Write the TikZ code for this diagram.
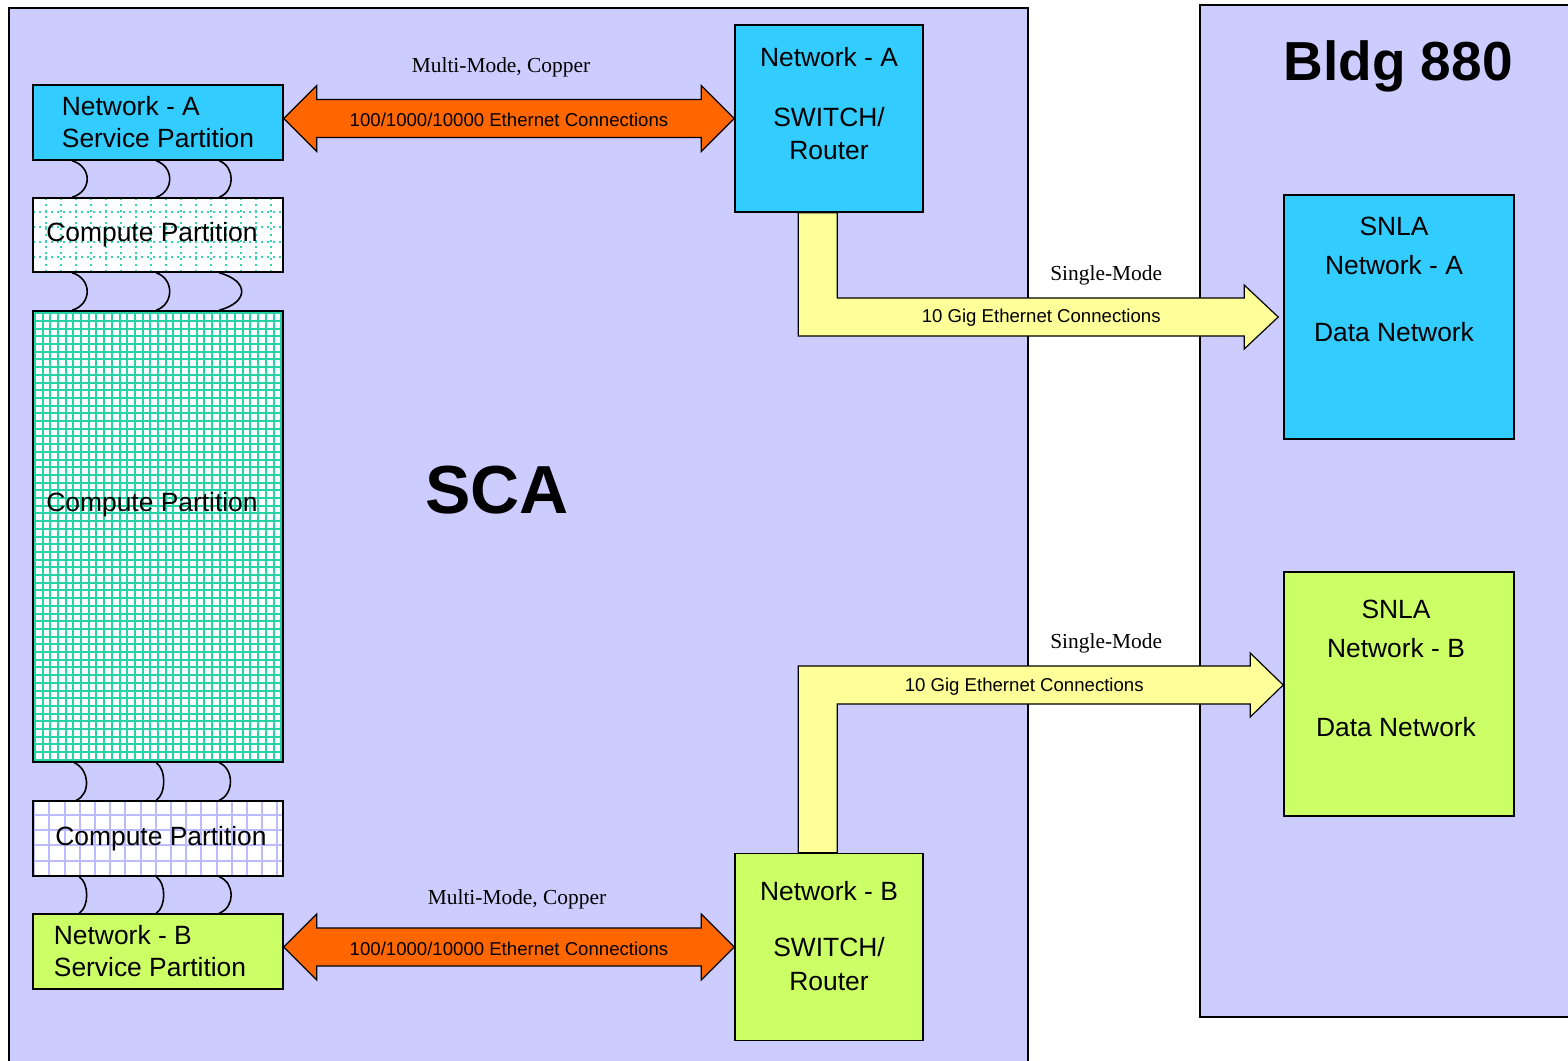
\documentclass[tikz,border=0pt]{standalone}
\usepackage{fontspec}
\setmainfont{Liberation Serif}
\setsansfont{Liberation Sans}
\usepackage{tikz}
\usetikzlibrary{shapes,arrows,calc}
\definecolor{lavender}{HTML}{CCCCFF}
\definecolor{skyblue}{HTML}{33CCFF}
\definecolor{limegreen}{HTML}{CCFF66}
\definecolor{fireorange}{HTML}{FF6600}
\definecolor{paleyellow}{HTML}{FFFF99}
\definecolor{gridgreen}{HTML}{00CC99}
\definecolor{gridlav}{HTML}{BBBBFF}
\tikzstyle{area} = [rectangle, draw, fill=lavender, line width=0.8pt, inner sep=0pt]
\tikzstyle{part} = [rectangle, draw, line width=0.8pt, minimum width=125pt, minimum height=37.5pt,
font=\sffamily\fontsize{13.2}{16}\selectfont, inner sep=0pt]
\tikzstyle{service} = [part, align=left]
\tikzstyle{dotgrid} = [part, fill=white, path picture={\draw[gridgreen!80, dotted, line width=1pt]
(path picture bounding box.south west) grid[step=7.5pt] (path picture bounding box.north east);}]
\tikzstyle{densegrid} = [part, fill=white, path picture={\draw[gridgreen!85, line width=1pt]
(path picture bounding box.south west) grid[step=3.85pt] (path picture bounding box.north east);}]
\tikzstyle{lavgrid} = [part, fill=white, path picture={\draw[gridlav, line width=1pt]
(path picture bounding box.south west) grid[step=7.6pt] (path picture bounding box.north east);}]
\tikzstyle{switchbox} = [rectangle, draw, line width=0.8pt, minimum width=94pt, minimum height=93.5pt]
\tikzstyle{datanet} = [rectangle, draw, line width=0.8pt, minimum width=115pt, minimum height=122pt]
\tikzstyle{boxtext} = [anchor=north, align=center, inner sep=0pt, font=\sffamily\fontsize{13.2}{16.5}\selectfont]
\tikzstyle{fatarrow} = [draw, fill=fireorange, line width=0.6pt]
\tikzstyle{bentarrow} = [draw, fill=paleyellow, line width=0.6pt]
\tikzstyle{tag} = [inner sep=0pt, font=\sffamily\fontsize{9.3}{11}\selectfont]
\tikzstyle{cable} = [inner sep=0pt, font=\rmfamily\fontsize{10.7}{12}\selectfont]
\tikzstyle{link} = [draw, line width=0.8pt]

\begin{document}
\begin{tikzpicture}[x=0.5pt, y=-0.5pt, node distance=56.25pt]
\useasboundingbox (0,0) rectangle (1568,1060);
% sites
\node [area, minimum width=509.5pt, minimum height=531pt] (sca) at (518.5,539) {};
\node [area, minimum width=195pt, minimum height=506pt] (bldg) at (1395,511) {};
\node [font=\sffamily\bfseries\fontsize{34}{40}\selectfont] (scatitle) at (497,490) {SCA};
\node [font=\sffamily\bfseries\fontsize{27.5}{33}\selectfont] (bldgtitle) at (1398,66) {Bldg 880};
% partitions
\node [service, fill=skyblue] (netAsvc) at (158,122.5) {Network - A\\Service Partition};
\node [dotgrid, below of=netAsvc, minimum height=37pt] (cp1) {Compute Partition\hspace*{6pt}};
\node [densegrid, below of=cp1, node distance=150.75pt, minimum height=225.5pt] (cp2) {};
\node [boxtext, anchor=center] (cp2txt) at ($(cp2)+(-6,-32)$) {Compute Partition};
\node [lavgrid, below of=cp2, node distance=151pt] (cp3) {\hspace*{3pt}Compute Partition};
\node [service, fill=limegreen, below of=cp3, node distance=56.5pt] (netBsvc) {Network - B\\Service Partition\hspace*{8pt}};
% switches and data networks
\node [switchbox, fill=skyblue] (swA) at (829,118.5) {};
\node [switchbox, fill=limegreen, below of=swA, node distance=414.25pt] (swB) {};
\node [boxtext] (swAtxt) at ($(swA.north)+(0,23)$) {Network - A\\[13.5pt]SWITCH/\\Router};
\node [boxtext] (swBtxt) at ($(swB.north)+(0,28)$) {Network - B\\[11.5pt]SWITCH/\\[0.5pt]Router};
\node [datanet, fill=skyblue] (snlaA) at (1399,317) {};
\node [datanet, fill=limegreen, below of=snlaA, node distance=188.5pt] (snlaB) {};
\node [boxtext] (snlaAtxt) at ($(snlaA.north)+(-5,22)$) {SNLA\\[3pt]Network - A\\[17pt]Data Network};
\node [boxtext] (snlaBtxt) at ($(snlaB.north)+(-3,28)$) {SNLA\\[3pt]Network - B\\[23pt]Data Network};
% links between partitions
\path [link] ($(netAsvc.south west)+(40,0)$) .. controls +(20,6) and +(20,-6) .. ($(cp1.north west)+(40,0)$)
  ($(netAsvc.south west)+(124,0)$) .. controls +(18,6) and +(18,-6) .. ($(cp1.north west)+(124,0)$)
  ($(netAsvc.south west)+(187,0)$) .. controls +(16,6) and +(16,-6) .. ($(cp1.north west)+(187,0)$);
\path [link] ($(cp1.south west)+(40,0)$) .. controls +(20,6) and +(20,-6) .. ($(cp2.north west)+(40,0)$)
  ($(cp1.south west)+(124,0)$) .. controls +(18,6) and +(18,-6) .. ($(cp2.north west)+(124,0)$)
  ($(cp1.south west)+(187,0)$) .. controls +(30,8) and +(30,-8) .. ($(cp2.north west)+(187,0)$);
\path [link] ($(cp2.south west)+(42,0)$) .. controls +(15,6) and +(15,-6) .. ($(cp3.north west)+(44,0)$)
  ($(cp2.south west)+(124,0)$) .. controls +(10,6) and +(10,-6) .. ($(cp3.north west)+(124,0)$)
  ($(cp2.south west)+(187,0)$) .. controls +(15,6) and +(15,-6) .. ($(cp3.north west)+(187,0)$);
\path [link] ($(cp3.south west)+(47,0)$) .. controls +(10,6) and +(10,-6) .. ($(netBsvc.north west)+(47,0)$)
  ($(cp3.south west)+(124,0)$) .. controls +(10,6) and +(10,-6) .. ($(netBsvc.north west)+(124,0)$)
  ($(cp3.south west)+(187,0)$) .. controls +(16,6) and +(16,-6) .. ($(netBsvc.north west)+(187,0)$);
% copper connections
\path [fatarrow] (netAsvc.east |- swA.west) -- ++(33,-33) -- ++(0,14) -- ($(swA.west)+(-33,-19)$) -- ++(0,-14)
  -- (swA.west) -- ++(-33,33) -- ++(0,-14) -- ($(netAsvc.east |- swA.west)+(33,19)$) -- ++(0,14) -- cycle;
\node [tag] (ethA) at ($(netAsvc.east |- swA.west)!0.5!(swA.west)+(0,1)$) {100/1000/10000 Ethernet Connections};
\node [cable] (mmA) at ($(ethA)+(-8,-52)$) {Multi-Mode, Copper};
\path [fatarrow] (netBsvc.east |- swB.west) -- ++(33,-33) -- ++(0,14) -- ($(swB.west)+(-33,-19)$) -- ++(0,-14)
  -- (swB.west) -- ++(-33,33) -- ++(0,-14) -- ($(netBsvc.east |- swB.west)+(33,19)$) -- ++(0,14) -- cycle;
\node [tag] (ethB) at ($(netBsvc.east |- swB.west)!0.5!(swB.west)+(0,2)$) {100/1000/10000 Ethernet Connections};
\node [cable] (mmB) at ($(ethB)+(8,-50)$) {Multi-Mode, Copper};
% fibre connections
\path [bentarrow] ($(swA.south west)+(64,0)$) |- ($(snlaA.west)+(-39,19)$) -- ++(0,13) -- ($(snlaA.west)+(-5,0)$)
  -- ($(snlaA.west)+(-39,-32)$) -- ++(0,13) -| ($(swA.south west)+(103,0)$) -- cycle;
\node [tag] (gigA) at ($(snlaA.west)+(-242,1)$) {10 Gig Ethernet Connections};
\node [cable] (smA) at ($(snlaA.west)+(-177,-42)$) {Single-Mode};
\path [bentarrow] ($(swB.north west)+(64,0)$) |- ($(snlaB.west)+(-33,-28)$) -- ++(0,-13) -- ($(snlaB.west)+(0,-9)$)
  -- ($(snlaB.west)+(-33,23)$) -- ++(0,-13) -| ($(swB.north west)+(103,0)$) -- cycle;
\node [tag] (gigB) at ($(snlaB.west)+(-259,-7)$) {10 Gig Ethernet Connections};
\node [cable] (smB) at ($(snlaB.west)+(-177,-51)$) {Single-Mode};
\end{tikzpicture}
\end{document}
